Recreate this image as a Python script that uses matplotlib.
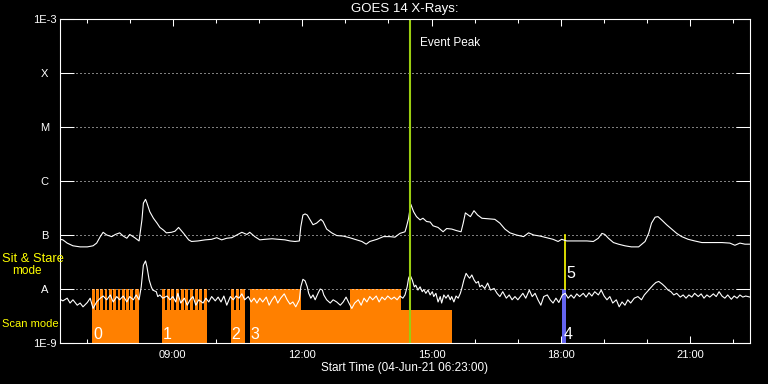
import numpy as np
import matplotlib
matplotlib.use('Agg')
import matplotlib.pyplot as plt
from matplotlib.ticker import NullLocator

plt.rcParams['font.family'] = ['Liberation Sans', 'DejaVu Sans']

# ---- data (time in minutes after 04-Jun-21 06:23:00, flux as log10 W/m^2) ----
upper_t = [0, 4, 10, 18, 28, 38, 46, 51, 56, 60,
           65, 72, 77, 83, 88, 93, 97, 104, 110, 114,
           116, 119, 121, 125, 130, 135, 139, 144, 148, 155,
           160, 165, 172, 179, 183, 192, 202, 211, 218, 225,
           232, 239, 246, 253, 260, 264, 271, 278, 285, 295,
           304, 313, 320, 327, 333, 335, 338, 341, 344, 348,
           352, 357, 363, 366, 371, 378, 385, 394, 403, 413,
           420, 426, 431, 441, 450, 459, 466, 473, 480, 482,
           485, 488, 492, 496, 501, 505, 510, 515, 519, 526,
           533, 538, 545, 552, 558, 561, 564, 568, 571, 576,
           581, 587, 596, 605, 612, 619, 626, 635, 645, 652,
           659, 668, 677, 686, 693, 698, 705, 714, 723, 733,
           742, 749, 754, 758, 763, 770, 777, 786, 795, 805,
           814, 819, 823, 828, 832, 837, 844, 851, 858, 865,
           874, 883, 893, 907, 921, 932, 939, 946, 953, 960]
upper_log = [-7.08, -7.09, -7.15, -7.20, -7.22, -7.22, -7.20, -7.15, -7.03, -6.95,
             -7.00, -7.03, -6.99, -6.96, -7.02, -7.06, -6.99, -7.05, -7.11, -6.72,
             -6.41, -6.34, -6.41, -6.57, -6.69, -6.78, -6.86, -6.91, -6.96, -6.95,
             -6.93, -6.86, -6.97, -7.09, -7.12, -7.11, -7.09, -7.08, -7.05, -7.09,
             -7.06, -7.05, -7.00, -6.95, -6.99, -6.95, -7.03, -7.09, -7.08, -7.07,
             -7.08, -7.09, -7.11, -7.12, -7.11, -6.85, -6.63, -6.61, -6.63, -6.72,
             -6.81, -6.78, -6.71, -6.75, -6.89, -6.96, -7.01, -7.02, -7.05, -7.09,
             -7.12, -7.17, -7.12, -7.08, -7.03, -7.03, -7.04, -6.97, -6.94, -6.85,
             -6.69, -6.43, -6.57, -6.66, -6.72, -6.69, -6.75, -6.76, -6.83, -6.86,
             -6.94, -6.88, -6.89, -6.92, -6.94, -6.78, -6.59, -6.63, -6.66, -6.55,
             -6.63, -6.69, -6.70, -6.71, -6.78, -6.89, -6.96, -7.00, -7.03, -6.96,
             -7.00, -7.02, -7.05, -7.08, -7.12, -7.08, -7.11, -7.11, -7.11, -7.11,
             -7.12, -7.06, -6.97, -6.99, -7.06, -7.14, -7.17, -7.20, -7.22, -7.22,
             -7.12, -6.97, -6.78, -6.67, -6.66, -6.72, -6.81, -6.89, -6.97, -7.03,
             -7.08, -7.11, -7.14, -7.14, -7.14, -7.15, -7.19, -7.15, -7.17, -7.17]

lower_t = [0, 4, 10, 14, 18, 24, 28, 32, 38, 42,
           46, 51, 56, 60, 65, 70, 74, 79, 83, 88,
           93, 97, 102, 106, 110, 113, 116, 119, 121, 124,
           127, 129, 134, 136, 139, 143, 149, 153, 157, 161,
           164, 168, 173, 177, 181, 185, 189, 193, 199, 203,
           207, 211, 216, 220, 224, 228, 232, 237, 241, 245,
           249, 253, 257, 262, 266, 270, 274, 278, 282, 287,
           291, 295, 299, 303, 307, 312, 316, 320, 324, 328,
           333, 335, 338, 341, 344, 346, 349, 352, 355, 359,
           362, 365, 367, 371, 376, 380, 385, 390, 394, 398,
           402, 406, 410, 415, 419, 423, 427, 431, 435, 440,
           444, 448, 452, 456, 461, 465, 469, 473, 477, 480,
           483, 485, 487, 490, 493, 495, 498, 501, 504, 506,
           509, 512, 515, 518, 520, 523, 526, 529, 531, 534,
           537, 540, 543, 545, 548, 551, 554, 557, 559, 562,
           565, 568, 570, 573, 576, 579, 582, 584, 587, 591,
           595, 599, 604, 608, 612, 616, 621, 625, 629, 633,
           637, 641, 644, 648, 653, 657, 661, 665, 669, 673,
           678, 682, 686, 690, 694, 699, 703, 707, 711, 715,
           719, 723, 728, 732, 736, 740, 744, 749, 753, 757,
           761, 765, 769, 774, 778, 782, 786, 790, 794, 799,
           804, 809, 813, 817, 821, 825, 829, 833, 838, 842,
           846, 850, 854, 858, 863, 867, 871, 875, 879, 883,
           888, 892, 896, 900, 904, 909, 913, 917, 921, 925,
           929, 934, 938, 942, 946, 950, 954, 960]
lower_log = [-8.19, -8.22, -8.17, -8.26, -8.20, -8.30, -8.26, -8.33, -8.25, -8.17,
             -8.36, -8.24, -8.17, -8.13, -8.20, -8.11, -8.24, -8.14, -8.20, -8.13,
             -8.24, -8.14, -8.20, -8.11, -8.20, -7.96, -7.56, -7.48, -7.59, -7.83,
             -7.96, -8.02, -8.05, -8.14, -8.11, -8.17, -8.13, -8.20, -8.14, -8.24,
             -8.08, -8.26, -8.17, -8.30, -8.20, -8.14, -8.30, -8.20, -8.26, -8.17,
             -8.24, -8.14, -8.22, -8.15, -8.24, -8.13, -8.30, -8.14, -8.20, -8.13,
             -8.17, -8.09, -8.20, -8.14, -8.24, -8.17, -8.26, -8.17, -8.24, -8.15,
             -8.30, -8.20, -8.13, -8.26, -8.17, -8.09, -8.20, -8.28, -8.24, -8.33,
             -8.20, -7.96, -7.82, -7.85, -7.96, -8.08, -8.17, -8.11, -8.20, -8.08,
             -8.00, -8.02, -8.11, -8.20, -8.26, -8.20, -8.24, -8.30, -8.24, -8.15,
             -8.26, -8.36, -8.26, -8.20, -8.30, -8.17, -8.24, -8.14, -8.20, -8.13,
             -8.24, -8.15, -8.20, -8.13, -8.19, -8.15, -8.20, -8.13, -8.17, -8.11,
             -7.96, -7.80, -7.74, -7.83, -7.96, -7.93, -8.02, -7.96, -8.05, -8.01,
             -8.08, -8.02, -8.11, -8.05, -8.14, -8.08, -8.24, -8.14, -8.26, -8.11,
             -8.17, -8.11, -8.20, -8.14, -8.24, -8.13, -8.17, -8.08, -7.99, -7.83,
             -7.71, -7.77, -7.80, -7.74, -7.83, -7.89, -7.86, -7.96, -7.93, -7.99,
             -7.89, -8.02, -7.99, -8.08, -8.14, -8.05, -8.17, -8.11, -8.20, -8.14,
             -8.20, -8.13, -8.08, -8.17, -8.02, -8.14, -8.08, -8.20, -8.30, -8.14,
             -8.11, -8.20, -8.26, -8.17, -8.25, -8.11, -8.08, -8.17, -8.11, -8.17,
             -8.09, -8.14, -8.08, -8.15, -8.07, -8.13, -8.05, -8.11, -8.02, -8.13,
             -8.20, -8.14, -8.26, -8.20, -8.33, -8.24, -8.30, -8.20, -8.26, -8.17,
             -8.14, -8.20, -8.11, -8.05, -7.99, -7.93, -7.88, -7.86, -7.91, -7.96,
             -8.02, -8.05, -8.11, -8.08, -8.15, -8.11, -8.17, -8.11, -8.15, -8.08,
             -8.14, -8.09, -8.17, -8.11, -8.15, -8.09, -8.14, -8.05, -8.13, -8.17,
             -8.11, -8.19, -8.13, -8.17, -8.11, -8.15, -8.13, -8.15]

# x ticks
major_ticks = [157, 337, 517, 697, 877]
major_labels = ['09:00', '12:00', '15:00', '18:00', '21:00']
minor_ticks = [37, 97, 217, 277, 397, 457, 577, 637, 757, 817, 937]

# GOES class levels
class_levels = [1e-9, 1e-8, 1e-7, 1e-6, 1e-5, 1e-4, 1e-3]
class_labels = ['1E-9', 'A', 'B', 'C', 'M', 'X', '1E-3']

# IRIS observations: scan mode blocks
scan_start = [44, 142, 238, 264]
scan_end = [110, 205, 258, 545]
scan_ids = ['0', '1', '2', '3']
scan_label_t = [46, 143, 238, 265]
scan_level = 4.1e-9

# sit & stare intervals (tall orange bars)
stare_start = [44, 50, 56, 62, 68, 74, 80, 86, 92, 98, 104,
               142, 148.5, 155, 161.5, 168, 174.5, 181, 187.5, 194, 200.5,
               238, 244.5, 251,
               264, 403]
stare_width = [4, 4, 4, 4, 4, 4, 4, 4, 4, 4, 6,
               4, 4, 4, 4, 4, 4, 4, 4, 4, 4.5,
               4, 4, 7,
               71, 71]
stare_level = 1e-8

obs4_start, obs4_width = 699, 5
obs5_t = 703
event_peak_t = 487

# ---- figure ----
fig = plt.figure(figsize=(7.68, 3.84), dpi=100, facecolor='black')
ax = fig.add_axes([60 / 768, 41 / 384, 690 / 768, 324 / 384])
ax.set_facecolor('black')
ax.set_yscale('log')
ax.set_xlim(0, 960)
ax.set_ylim(1e-9, 1e-3)

orange = '#FF8000'
# scan mode blocks
ax.bar(scan_start, [scan_level - 1e-9] * len(scan_start),
       width=np.array(scan_end) - np.array(scan_start), bottom=1e-9,
       align='edge', color=orange, linewidth=0, zorder=2)
# sit & stare stripes
ax.bar(stare_start, [stare_level - 1e-9] * len(stare_start), width=stare_width,
       bottom=1e-9, align='edge', color=orange, linewidth=0, zorder=2)
# obs 4 (blue)
ax.bar([obs4_start], [stare_level - 1e-9], width=[obs4_width], bottom=1e-9,
       align='edge', color='#6464F0', linewidth=0, zorder=2)
# obs 5 (yellow line)
ax.plot([obs5_t, obs5_t], [1e-8, 1e-7], color='#FFFF00', lw=1.2, zorder=4)

# dotted class grid
for lv in class_levels[1:-1]:
    ax.axhline(lv, color='white', lw=0.72, ls=(0, (1, 3)), zorder=3)

# GOES curves
ax.plot(upper_t, 10 ** np.array(upper_log), color='white', lw=0.8, zorder=5)
ax.plot(lower_t, 10 ** np.array(lower_log), color='white', lw=0.8, zorder=5)

# event peak
ax.axvline(event_peak_t, color='#9ACD10', lw=1.5, zorder=6)
ax.text(501, 10 ** -3.444, 'Event Peak', color='white', fontsize=8.5,
        ha='left', va='center', zorder=7)

# observation labels
for t, lab in zip(scan_label_t, scan_ids):
    ax.text(t, 10 ** -8.93, lab, color='white', fontsize=11.5, ha='left',
            va='baseline', zorder=7)
ax.text(701, 10 ** -8.93, '4', color='white', fontsize=11.5, ha='left',
        va='baseline', zorder=7)
ax.text(705, 10 ** -7.80, '5', color='white', fontsize=11.5, ha='left',
        va='baseline', zorder=7)

# axes styling
for sp in ax.spines.values():
    sp.set_color('white')
    sp.set_linewidth(0.8)
    sp.set_zorder(8)

ax.set_xticks(major_ticks)
ax.set_xticklabels(major_labels)
ax.set_xticks(minor_ticks, minor=True)
ax.tick_params(axis='x', which='major', direction='in', length=5, width=0.75,
               top=True, bottom=True, colors='white', labelsize=8, pad=5)
ax.tick_params(axis='x', which='minor', direction='in', length=3, width=0.75,
               top=True, bottom=True, colors='white')

ax.set_yticks(class_levels)
ax.set_yticklabels(class_labels)
ax.yaxis.set_minor_locator(NullLocator())
ax.tick_params(axis='y', which='major', direction='in', length=10, width=0.75,
               left=True, right=True, colors='white', labelsize=8, pad=11.2)
for lab in ax.get_yticklabels():
    lab.set_horizontalalignment('center')

# titles & labels
fig.text(405 / 768, 1 - 9 / 384, 'GOES 14 X-Rays:', color='white', fontsize=9.5,
         ha='center', va='center')
fig.text(405 / 768, 1 - 368 / 384, 'Start Time (04-Jun-21 06:23:00)', color='white',
         fontsize=8.5, ha='center', va='center')
fig.text(2 / 768, 1 - 259 / 384, 'Sit & Stare', color='#FFFF00', fontsize=9.3,
         ha='left', va='center')
fig.text(12 / 768, 1 - 271 / 384, 'mode', color='#FFFF00', fontsize=8.5,
         ha='left', va='center')
fig.text(2 / 768, 1 - 324 / 384, 'Scan mode', color='#FFFF00', fontsize=8,
         ha='left', va='center')

fig.savefig('out.png', dpi=100, facecolor='black')
